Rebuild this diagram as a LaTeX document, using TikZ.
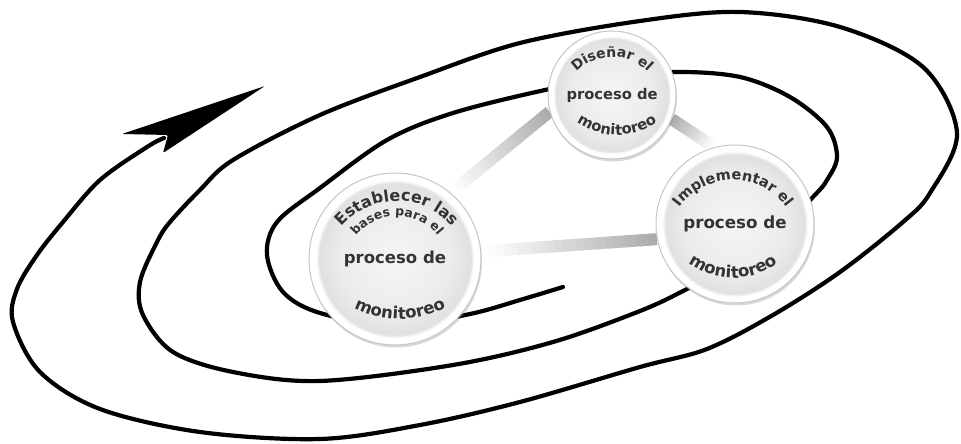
\documentclass[tikz,border=0pt]{standalone}
\usepackage{fontspec}
\setmainfont{DejaVu Sans}
\usepackage{tikz}
\usetikzlibrary{calc, shadows, backgrounds, decorations.text}

\definecolor{textgray}{HTML}{333333}
\pgfdeclareradialshading{ballshade}{\pgfpoint{0bp}{0bp}}{color(0bp)=(gray!8); color(16bp)=(gray!15); color(22bp)=(gray!24); color(23bp)=(white); color(25bp)=(white)}
\tikzstyle{ball} = [circle, shade, shading=ballshade, draw=gray!45, line width=1pt, text=textgray, drop shadow={shadow xshift=1pt, shadow yshift=-2.5pt, opacity=0.3}]
\tikzstyle{spiral} = [line width=4.2pt, line cap=round, line join=round]
\tikzstyle{rod} = [line width=12pt, line cap=butt]

% rod from #1 (gray) fading to #2 (white)
\newcommand{\rodline}[2]{%
  \foreach \k in {0,...,23}{
    \pgfmathtruncatemacro{\tint}{65*(1-\k/23)}
    \pgfmathsetmacro{\ka}{\k/24}
    \pgfmathsetmacro{\kb}{(\k+1.4)/24}
    \draw[rod, draw=gray!\tint] ($(#1)!\ka!(#2)$) -- ($(#1)!\kb!(#2)$);
  }}
% text over the top: centre, radius, size, text
\newcommand{\toparc}[4]{%
  \path[decorate, decoration={text along path, text align=center, text color=textgray,
    text={|\fontsize{#3}{#3}\selectfont\bfseries|#4}}]
    (#1) ++(165:#2) arc[start angle=165, end angle=15, radius=#2];}
% text under the bottom
\newcommand{\botarc}[4]{%
  \path[decorate, decoration={text along path, text align=center, text color=textgray,
    text={|\fontsize{#3}{#3}\selectfont\bfseries|#4}}]
    (#1) ++(215:#2) arc[start angle=215, end angle=325, radius=#2];}

\begin{document}
\begin{tikzpicture}[x=1pt, y=1pt]
  \useasboundingbox (0,0) rectangle (961,444);

  \draw[spiral] plot[smooth, tension=0.55] coordinates {(563,157) (520,144) (470,130) (395,118) (320,131) (283,152) (267,189) (277,222) (320,256) (387,304) (453,331) (545,354) (612,366) (677,372) (740,367) (790,347) (827,317) (837,287) (827,264) (813,247) (760,194) (687,155) (640,133) (553,102) (453,79) (320,63) (233,72) (173,92) (143,129) (140,162) (157,202) (170,222) (200,254) (233,284) (320,329) (420,367) (520,401) (640,423) (740,432) (840,417) (923,377) (957,311) (930,251) (903,222) (840,172) (773,129) (707,95) (640,77) (520,42) (420,19) (320,5) (200,12) (100,35) (40,72) (13,122) (17,155) (37,189) (63,222) (100,264) (147,297) (164,306)};
  \fill[rounded corners=1.5pt] (265,358) -- (122,310) -- (168,309) -- (163,291) -- cycle;

  \node (1) [ball, minimum size=172pt, font=\fontsize{16.5}{18}\selectfont\bfseries] at (395,185) {proceso de};
  \node (2) [ball, minimum size=128pt, font=\fontsize{14.7}{16}\selectfont\bfseries] at (612,349) {proceso de};
  \node (3) [ball, minimum size=158pt, font=\fontsize{16.7}{18}\selectfont\bfseries] at (735,220) {proceso de};

  \begin{scope}[on background layer]
    \rodline{2.195}{1.50}
    \rodline{2.338}{3.105}
    \rodline{3.191}{1.5}
  \end{scope}

  \toparc{$(1)+(2,-14)$}{72}{16}{Establecer las}
  \toparc{$(1)+(2,-9)$}{52}{12.5}{bases para el}
  \botarc{$(1)+(5,40)$}{100}{16.5}{monitoreo}
  \toparc{$(2)+(0,-12)$}{50}{14}{Diseñar el}
  \botarc{$(2)+(5,30)$}{70}{14.7}{monitoreo}
  \toparc{$(3)+(-2,-22)$}{66}{14.5}{Implementar el}
  \botarc{$(3)+(-2,21)$}{75}{16.5}{monitoreo}
\end{tikzpicture}
\end{document}
